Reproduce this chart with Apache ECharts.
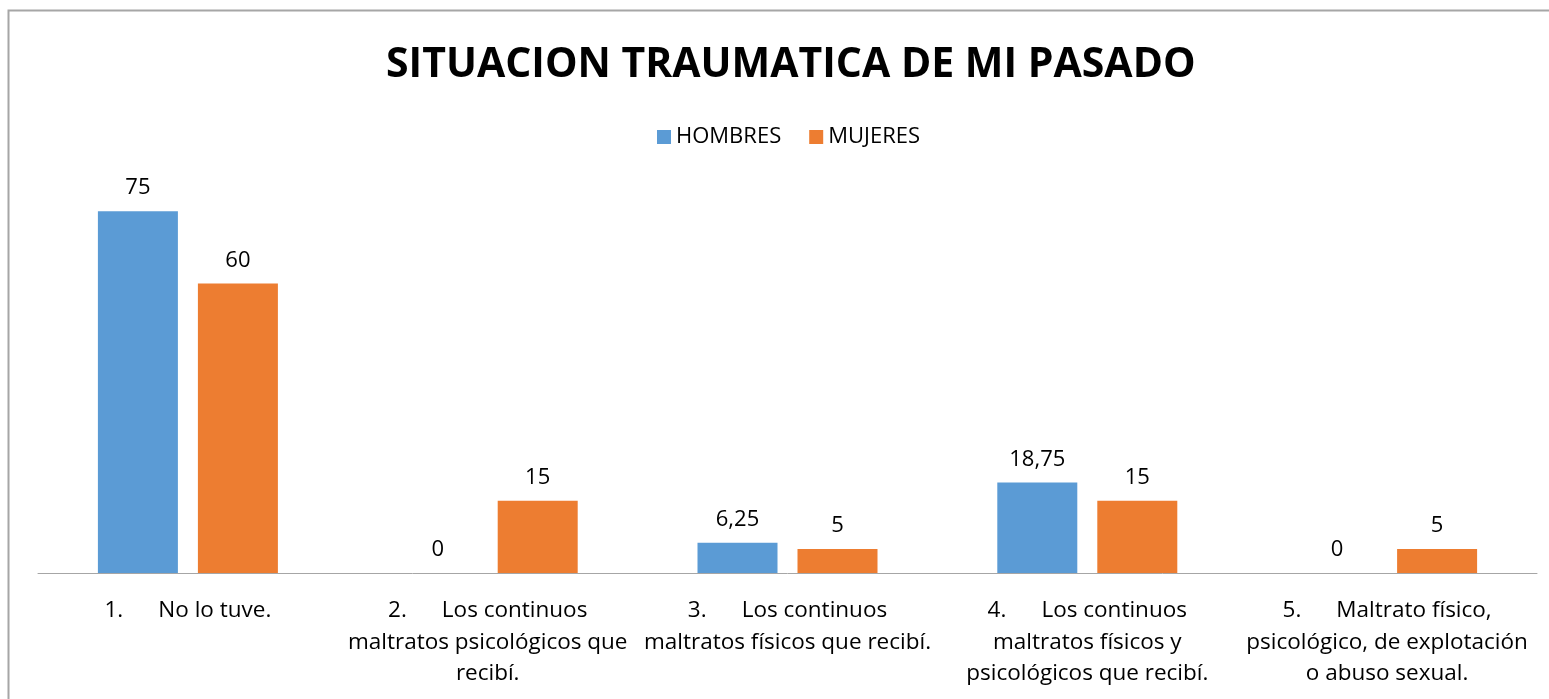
<!DOCTYPE html>
<html>
<head>
<meta charset="utf-8">
<script src="https://cdn.jsdelivr.net/npm/echarts@6/dist/echarts.min.js"></script>
<style>
  html, body { margin: 0; padding: 0; background: #fff; }
  #main { width: 1549px; height: 699px; }
</style>
</head>
<body>
<div id="main"></div>
<script>
var categories = [
  '1.      No lo tuve.',
  '2.      Los continuos\nmaltratos psicológicos que\nrecibí.',
  '3.      Los continuos\nmaltratos físicos que recibí.',
  '4.      Los continuos\nmaltratos físicos y\npsicológicos que recibí.',
  '5.      Maltrato físico,\npsicológico, de explotación\no abuso sexual.'
]
var hombres = [75, 0, 6.25, 18.75, 0]
var mujeres = [60, 15, 5, 15, 5]

var chart = echarts.init(document.getElementById('main'))
var font = '"Open Sans", sans-serif'

function fmt(p) {
  return String(p.value).replace('.', ',')
}

var option = {
  animation: false,
  textStyle: { fontFamily: font },
  title: {
    text: 'SITUACION TRAUMATICA DE MI PASADO',
    left: 381,
    top: 40,
    textStyle: { fontFamily: font, fontSize: 41, fontWeight: 'bold', color: '#000' }
  },
  legend: {
    left: 652,
    top: 121,
    itemWidth: 14,
    itemHeight: 14,
    itemGap: 28,
    icon: 'rect',
    textStyle: { fontFamily: font, fontSize: 22, color: '#000' }
  },
  graphic: [{
    type: 'rect',
    shape: { x: 8.5, y: 10.5, width: 1700, height: 900 },
    style: { fill: 'none', stroke: '#a6a6a6', lineWidth: 2 },
    silent: true
  }],
  grid: {
    left: 38,
    right: 12,
    top: 187,
    bottom: 126
  },
  xAxis: {
    type: 'category',
    data: categories,
    axisLine: { lineStyle: { color: '#a6a6a6', width: 1 } },
    axisTick: { show: false },
    axisLabel: {
      interval: 0,
      margin: 22,
      color: '#000',
      fontFamily: font,
      fontSize: 22.5,
      lineHeight: 31.5
    }
  },
  yAxis: {
    type: 'value',
    min: 0,
    max: 80,
    show: false,
    splitLine: { show: false }
  },
  series: [{
    name: 'HOMBRES',
    type: 'bar',
    data: hombres,
    barWidth: 80,
    barGap: '25%',
    itemStyle: { color: '#5b9bd5' },
    label: { show: true, position: 'top', distance: 12, color: '#000', fontFamily: font, fontSize: 22, formatter: fmt }
  }, {
    name: 'MUJERES',
    type: 'bar',
    data: mujeres,
    barWidth: 80,
    barGap: '25%',
    itemStyle: { color: '#ed7d31' },
    label: { show: true, position: 'top', distance: 12, color: '#000', fontFamily: font, fontSize: 22, formatter: fmt }
  }]
}

chart.setOption(option)
</script>
</body>
</html>
